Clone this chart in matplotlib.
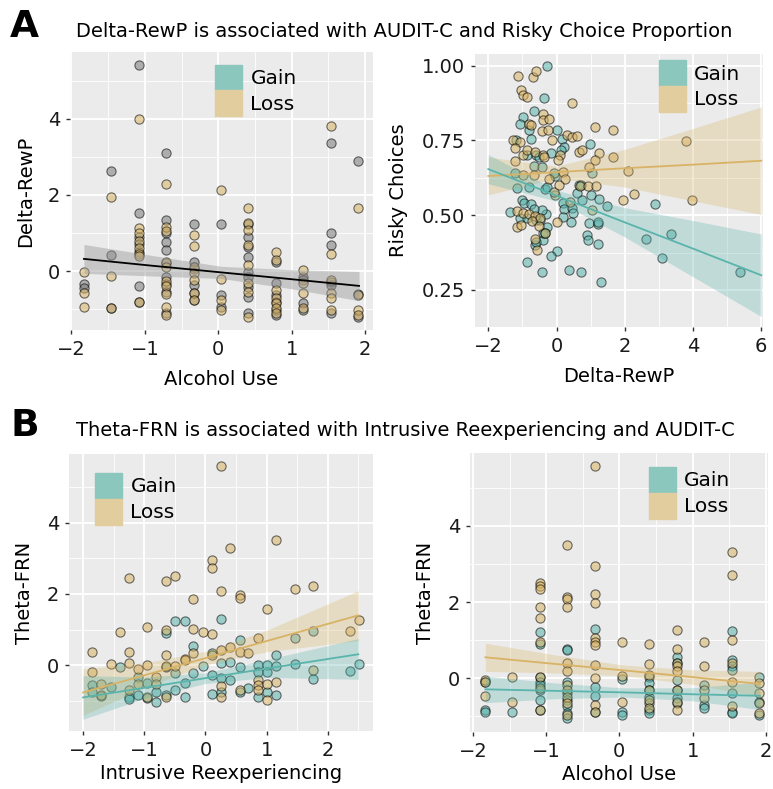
import numpy as np
import matplotlib.pyplot as plt
from matplotlib.patches import Patch

# ---- data ----
alcohol_levels = [-1.83, -1.46, -1.08, -0.71, -0.33, 0.04, 0.41, 0.79, 1.16, 1.54, 1.91]

# panel A left: Delta-RewP by alcohol use (grey = gain, tan = loss)
rewp_gain_by_alc = [
    [-0.35, -0.45],
    [2.63, 0.42, -0.96],
    [5.41, 1.52, 0.9, 0.7, 0.5, -0.39, -0.81],
    [3.11, 1.34, 0.99, 0.77, 0.55, 0.2, -0.15, -0.35, -0.55, -1.11],
    [1.24, 0.25, 0.05, -0.37, -0.59, -0.76],
    [1.25, -0.63, -0.94],
    [1.25, 0.9, 0.64, 0.38, -0.02, -0.15, -0.41, -0.68, -1.11],
    [0.25, -0.32, -0.63, -0.81, -1.03, -1.16],
    [-0.15, -0.24, -0.85, -1.03],
    [3.36, 1.01, 0.68, -0.28, -0.37, -1.11],
    [2.89, -0.61, -1.2],
]
rewp_loss_by_alc = [
    [-0.02, -0.57, -0.94],
    [1.96, -0.13, -0.96],
    [3.99, 1.12, 1.0, 0.8, 0.6, 0.45, 0.4, -0.81],
    [2.28, 1.16, 1.05, 0.25, 0.1, -0.25, -0.4, -0.6, -0.94, -1.16],
    [0.95, 0.66, 0.11, -0.06, -0.24, -0.59, -0.76],
    [2.13, -0.22, -0.76, -1.03],
    [1.65, 1.27, 1.08, 0.68, 0.16, -0.32, -0.54, -1.2],
    [0.49, 0.29, -0.5, -0.72, -0.85, -0.98, -1.11],
    [0.04, -0.32, -0.57, -0.98],
    [3.82, 0.46, -0.24, -0.59, -0.72, -1.03],
    [1.65, -0.63, -1.03, -1.16],
]
a1_band_x = [-1.83, -0.9, 0.04, 1.0, 1.92]
a1_fit = [0.32, 0.14, -0.035, -0.215, -0.39]
a1_hi = [0.70, 0.41, 0.125, 0.035, -0.01]
a1_lo = [-0.06, -0.13, -0.195, -0.465, -0.78]

# panel A right: risky choices vs Delta-RewP
risk_gain_x = [-0.29, -0.37, -0.65, -0.98, -1.07, -0.81, 0.0, -0.76, 0.15, -1.19, 0.98, 0.22, 0.13,
               -0.15, -0.6, -0.52, -0.88, -0.66, -0.44, -1.21, -0.05, -0.07, -1.17, -0.81, -0.34,
               -0.29, 0.61, 1.0, 0.76, 1.05, 1.23, 1.49, 0.2, 0.22, 0.45, 0.47, -1.02, -0.95, -0.75,
               -1.37, -1.07, -0.31, -0.44, -0.66, 0.2, 0.41, 0.95, 1.22, 1.22, -0.6, -0.49, -0.29,
               -0.86, 0.88, 0.92, 1.22, -0.39, -0.63, -0.59, -0.41, -0.34, 0.02, -0.17, -0.88,
               -0.44, 0.37, 0.71, 1.29, 2.61, 3.34, 3.1, 2.89, 5.39, 0.65, 0.72]
risk_gain_y = [1.0, 0.891, 0.848, 0.827, 0.805, 0.785, 0.785, 0.754, 0.755, 0.75, 0.738, 0.727, 0.718,
               0.707, 0.70, 0.695, 0.70, 0.664, 0.662, 0.64, 0.63, 0.642, 0.59, 0.595, 0.588,
               0.595, 0.573, 0.567, 0.551, 0.642, 0.554, 0.532, 0.54, 0.52, 0.525, 0.506, 0.55, 0.54, 0.538,
               0.512, 0.49, 0.503, 0.518, 0.52, 0.493, 0.478, 0.473, 0.47, 0.478, 0.484, 0.484, 0.462,
               0.49, 0.433, 0.417, 0.404, 0.417, 0.40, 0.41, 0.44, 0.44, 0.381, 0.363, 0.344,
               0.311, 0.317, 0.311, 0.278, 0.42, 0.437, 0.358, 0.536, 0.309, 0.60, 0.60]
risk_loss_x = [-1.14, -0.68, -0.59, -1.03, -0.98, -0.86, 0.46, -0.41, -0.39, -0.21, -0.8, -0.76, -0.42,
               -0.24, 0.31, 0.44, 0.6, 1.12, 1.64, 3.79, -1.29, -1.07, -1.22, -0.98, -0.88, -0.63,
               -0.39, -0.36, -0.12, 0.65, 0.75, 1.23, 1.64, 0.1, 0.05, 1.12, 0.94, -1.23, -0.98,
               -0.66, 0.18, 0.24, 2.1, 0.68, 0.93, 1.15, 2.26, 1.95, 3.98, -0.05, -0.07, 0.39, 1.04,
               -1.16, -0.98, -0.8, -0.63, -0.49, -1.15, -1.03, -0.73, 0.02, -0.5, -0.64, -0.58,
               -0.34, -0.22, 0.08]
risk_loss_y = [0.967, 0.963, 0.983, 0.919, 0.902, 0.896, 0.876, 0.838, 0.818, 0.82, 0.805, 0.80, 0.783,
               0.785, 0.768, 0.763, 0.766, 0.794, 0.785, 0.749, 0.751, 0.746, 0.724, 0.70, 0.718, 0.71,
               0.70, 0.695, 0.751, 0.712, 0.718, 0.709, 0.693, 0.70, 0.685, 0.685, 0.662, 0.68, 0.635,
               0.635, 0.645, 0.62, 0.648, 0.599, 0.599, 0.599, 0.571, 0.551, 0.551, 0.567, 0.578, 0.545, 0.517,
               0.514, 0.508, 0.503, 0.497, 0.492, 0.46, 0.468, 0.482, 0.478, 0.464, 0.419, 0.385,
               0.441, 0.62, 0.60]
a2_band_x = [-2, 0, 2, 4, 6]
a2_gain_fit = [0.654, 0.565, 0.476, 0.388, 0.299]
a2_gain_hi = [0.703, 0.583, 0.525, 0.482, 0.437]
a2_gain_lo = [0.605, 0.547, 0.427, 0.294, 0.161]
a2_loss_fit = [0.631, 0.644, 0.657, 0.669, 0.682]
a2_loss_hi = [0.694, 0.664, 0.72, 0.79, 0.862]
a2_loss_lo = [0.568, 0.624, 0.594, 0.548, 0.502]

# panel B left: Theta-FRN vs intrusive reexperiencing
frn_gain_x = [-1.85, -1.85, -1.4, -1.25, -1.25, -1.1, -1.1, -0.95, -0.95, -0.8, -0.8, -0.64, -0.64,
              -0.64, -0.5, -0.34, -0.5, -0.5, -0.34, -0.34, -0.2, -0.2, -0.04, 0.1, 0.1, 0.1, 0.26,
              0.26, 0.26, 0.26, 0.4, 0.4, 0.56, 0.56, 0.56, 0.7, 0.86, 0.86, 0.86, 1.0, 1.0, 1.0,
              1.16, 1.16, 1.16, 1.46, 1.46, 1.76, 1.76, 2.36, 2.51, -1.55, -1.7]
frn_gain_y = [-0.55, -0.74, -0.06, -0.88, -0.95, -0.32, -0.83, -0.5, -0.92, -0.74, -1.02, 0.9, -0.04,
              -0.83, 1.25, 1.25, -0.22, -0.69, -0.5, -0.88, 0.55, -0.22, -0.02, 0.34, -0.27, -0.79, 1.31,
              0.06, -0.36, -0.74, 0.1, -0.41, 0.71, -0.04, -0.74, -0.64, 0.01, -0.2, -0.88, 0.01, -0.18, -0.74,
              0.28, -0.02, -0.83, 0.04, 0.76, 0.97, -0.38, -0.15, 0.04, -0.6, -0.85]
frn_loss_x = [-1.85, -1.85, -1.7, -1.7, -1.55, -1.4, -1.25, -1.25, -1.25, -1.25, -1.1, -1.1, -0.95,
              -0.95, -0.95, -0.8, -0.8, -0.64, -0.5, -0.64, -0.64, -0.64, -0.64, -0.5, -0.34, -0.34,
              -0.2, -0.2, -0.2, -0.04, 0.1, 0.1, 0.1, 0.1, 0.26, 0.26, 0.26, 0.26, 0.26, 0.4, 0.4,
              0.56, 0.56, 0.56, 0.56, 0.7, 0.86, 0.86, 0.86, 0.86, 1.0, 1.0, 1.0, 1.16, 1.16, 1.46,
              1.76, 1.76, 2.36, 2.51]
frn_loss_y = [0.38, -0.2, -0.52, -0.83, 0.04, 0.92, 2.46, 0.38, 0.06, -0.69, -0.11, -0.52, 1.06,
              0.0, -0.88, -0.32, -0.52, 2.36, 2.49, 0.99, 0.28, -0.02, -0.88, -0.02, 0.18, 0.16,
              1.86, 1.02, 0.34, 0.94, 2.95, 2.72, 0.88, 0.28, 5.59, 2.09, 0.43, -0.58, -0.88, 3.3, 0.52,
              1.97, 1.88, 0.38, -0.69, 0.34, 0.76, -0.41, -0.55, -0.69, 1.57, -0.52, -0.97, 3.51, -0.46, 2.13,
              2.21, -0.13, 0.97, 1.27]
b1_band_x = [-2, -1, 0, 1, 2.5]
b1_gain_fit = [-0.9, -0.63, -0.36, -0.09, 0.31]
b1_gain_hi = [-0.29, -0.33, -0.21, 0.16, 0.75]
b1_gain_lo = [-1.51, -0.93, -0.51, -0.34, -0.39]
b1_loss_fit = [-0.76, -0.28, 0.2, 0.68, 1.40]
b1_loss_hi = [-0.10, 0.07, 0.39, 0.98, 2.09]
b1_loss_lo = [-1.40, -0.63, 0.01, 0.38, 0.69]

# panel B right: Theta-FRN by alcohol use
frn_gain_by_alc = [
    [-0.11, -0.83, -0.88],
    [-0.88],
    [1.21, 0.89, 0.04, -0.09, -0.18, -0.31, -0.57, -0.83],
    [0.76, 0.73, -0.09, -0.39, -0.57, -0.74, -0.92, -1.05],
    [1.3, -0.24, -0.46, -0.88],
    [-0.03, -0.88, -0.96],
    [0.04, -0.13, -0.31, -0.48, -0.66, -0.83, -0.92],
    [0.55, 0.39, -0.04, -0.31, -0.53, -0.66],
    [-0.18, -0.7, -0.79],
    [1.25, 0.48, 0.31, 0.22, -0.39, -0.88, -0.92],
    [0.04, -0.61, -0.96],
]
frn_loss_by_alc = [
    [-0.04, -0.11, -0.46],
    [0.04, -0.61],
    [2.49, 2.41, 2.34, 1.86, 1.57, 0.96, 0.04, -0.26, -0.83],
    [3.5, 2.13, 2.07, 1.86, 0.39, 0.18, -0.18, -0.31, -0.48, -0.66, -0.96],
    [5.58, 2.95, 2.21, 1.97, 1.05, 0.96, 0.88, 0.35, 0.0, -0.7, -0.88],
    [0.94, 0.06, -0.61],
    [0.9, 0.38, 0.09, -0.31, -0.57, -0.79],
    [1.27, 0.76, 0.39, 0.31, 0.18, -0.31, -0.61, -0.83],
    [0.95, 0.32, -0.31, -0.53],
    [3.3, 2.71, 1.01, 0.39, -0.09, -0.74],
    [-0.13, -0.39, -0.64, -0.92],
]
b2_band_x = [-1.83, -0.9, 0.04, 1.0, 1.92]
b2_gain_fit = [-0.29, -0.33, -0.37, -0.42, -0.46]
b2_gain_hi = [0.06, -0.12, -0.25, -0.25, -0.10]
b2_gain_lo = [-0.64, -0.54, -0.49, -0.59, -0.82]
b2_loss_fit = [0.55, 0.38, 0.21, 0.03, -0.15]
b2_loss_hi = [0.92, 0.62, 0.35, 0.22, 0.18]
b2_loss_lo = [0.18, 0.14, 0.07, -0.16, -0.48]

# ---- style ----
TEAL = '#5AB4AC'
TAN = '#D8B365'
BG = '#EBEBEB'
plt.rcParams['font.family'] = 'DejaVu Sans'


def flatten(levels, by_level):
    xs, ys = [], []
    for lv, vals in zip(levels, by_level):
        xs += [lv] * len(vals)
        ys += vals
    return xs, ys


def gg_axes(fig, px, xlim, ylim, xmaj, ymaj, xmin, ymin, ylabels=None):
    W, H = 773, 789
    l, t, r, b = px
    ax = fig.add_axes([l / W, 1 - b / H, (r - l) / W, (b - t) / H])
    ax.set_facecolor(BG)
    for s in ax.spines.values():
        s.set_visible(False)
    ax.set_xlim(xlim)
    ax.set_ylim(ylim)
    ax.set_xticks(xmaj)
    ax.set_yticks(ymaj)
    if ylabels is not None:
        ax.set_yticklabels(ylabels)
    ax.set_xticks(xmin, minor=True)
    ax.set_yticks(ymin, minor=True)
    ax.grid(which='major', color='white', lw=1.3)
    ax.grid(which='minor', color='white', lw=0.6)
    ax.set_axisbelow(True)
    ax.tick_params(which='major', length=3, width=1, color='#333333', labelsize=14,
                   labelcolor='#1a1a1a', pad=4)
    ax.tick_params(which='minor', length=0)
    return ax


def pts(ax, x, y, color, alpha=0.55):
    ax.scatter(x, y, s=44, facecolor=color, edgecolor='black', linewidths=0.8, alpha=alpha, zorder=3)


def band(ax, x, fit, lo, hi, color, band_color, band_alpha):
    ax.fill_between(x, lo, hi, color=band_color, alpha=band_alpha, lw=0, zorder=4)
    ax.plot(x, fit, color=color, lw=1.3, zorder=5)


def legend(ax, loc_xy):
    handles = [Patch(facecolor='#8CC7BE', edgecolor='#8CC7BE', label='Gain'),
               Patch(facecolor='#E2CD9E', edgecolor='#E2CD9E', label='Loss')]
    ax.legend(handles=handles, loc='upper left', bbox_to_anchor=loc_xy, frameon=False,
              fontsize=14.5, handlelength=1.35, handleheight=1.6, labelspacing=0.0,
              handletextpad=0.4, borderpad=0, borderaxespad=0)


fig = plt.figure(figsize=(7.73, 7.89), dpi=100)

# panel A left
ax = gg_axes(fig, (70, 52, 373, 330), (-2.02, 2.11), (-1.55, 5.76),
             [-2, -1, 0, 1, 2], [0, 2, 4], [-1.5, -0.5, 0.5, 1.5], [-1, 1, 3, 5])
gx, gy = flatten(alcohol_levels, rewp_gain_by_alc)
lx, ly = flatten(alcohol_levels, rewp_loss_by_alc)
pts(ax, gx, gy, '#7a7a7a')
pts(ax, lx, ly, TAN)
band(ax, a1_band_x, a1_fit, a1_lo, a1_hi, 'black', '#999999', 0.45)
ax.set_xlabel('Alcohol Use', fontsize=14, labelpad=8)
ax.set_ylabel('Delta-RewP', fontsize=14, labelpad=9)
legend(ax, (0.479, 0.955))

# panel A right
ax = gg_axes(fig, (475, 54, 763, 327), (-2.39, 6.05), (0.126, 1.039),
             [-2, 0, 2, 4, 6], [0.25, 0.5, 0.75, 1.0], [-1, 1, 3, 5], [0.375, 0.625, 0.875],
             ylabels=['0.25', '0.50', '0.75', '1.00'])
pts(ax, risk_gain_x, risk_gain_y, TEAL)
pts(ax, risk_loss_x, risk_loss_y, TAN)
band(ax, a2_band_x, a2_loss_fit, a2_loss_lo, a2_loss_hi, TAN, TAN, 0.3)
band(ax, a2_band_x, a2_gain_fit, a2_gain_lo, a2_gain_hi, TEAL, TEAL, 0.3)
ax.set_xlabel('Delta-RewP', fontsize=14, labelpad=8)
ax.set_ylabel('Risky Choices', fontsize=14, labelpad=10)
legend(ax, (0.639, 0.978))

# panel B left
ax = gg_axes(fig, (69, 454, 373, 731), (-2.23, 2.74), (-1.84, 5.92),
             [-2, -1, 0, 1, 2], [0, 2, 4], [-1.5, -0.5, 0.5, 1.5, 2.5], [-1, 1, 3, 5])
pts(ax, frn_gain_x, frn_gain_y, TEAL)
pts(ax, frn_loss_x, frn_loss_y, TAN)
band(ax, b1_band_x, b1_loss_fit, b1_loss_lo, b1_loss_hi, TAN, TAN, 0.3)
band(ax, b1_band_x, b1_gain_fit, b1_gain_lo, b1_gain_hi, TEAL, TEAL, 0.3)
ax.set_xlabel('Intrusive Reexperiencing', fontsize=14, labelpad=3)
ax.set_ylabel('Theta-FRN', fontsize=14, labelpad=9)
legend(ax, (0.086, 0.932))

# panel B right
ax = gg_axes(fig, (470, 453, 768, 732), (-2.04, 2.03), (-1.41, 5.91),
             [-2, -1, 0, 1, 2], [0, 2, 4], [-1.5, -0.5, 0.5, 1.5], [-1, 1, 3, 5])
gx, gy = flatten(alcohol_levels, frn_gain_by_alc)
lx, ly = flatten(alcohol_levels, frn_loss_by_alc)
pts(ax, gx, gy, TEAL)
pts(ax, lx, ly, TAN)
band(ax, b2_band_x, b2_loss_fit, b2_loss_lo, b2_loss_hi, TAN, TAN, 0.3)
band(ax, b2_band_x, b2_gain_fit, b2_gain_lo, b2_gain_hi, TEAL, TEAL, 0.3)
ax.set_xlabel('Alcohol Use', fontsize=14, labelpad=3)
ax.set_ylabel('Theta-FRN', fontsize=14, labelpad=9)
legend(ax, (0.60, 0.95))

# panel tags and titles
fig.text(10 / 773, 1 - 37 / 789, 'A', fontsize=27, fontweight='bold', va='baseline')
fig.text(76 / 773, 1 - 37 / 789, 'Delta-RewP is associated with AUDIT-C and Risky Choice Proportion',
         fontsize=14, va='baseline')
fig.text(10 / 773, 1 - 436 / 789, 'B', fontsize=27, fontweight='bold', va='baseline')
fig.text(76 / 773, 1 - 436 / 789, 'Theta-FRN is associated with Intrusive Reexperiencing and AUDIT-C',
         fontsize=14, va='baseline')

fig.savefig('out.png', dpi=100)
